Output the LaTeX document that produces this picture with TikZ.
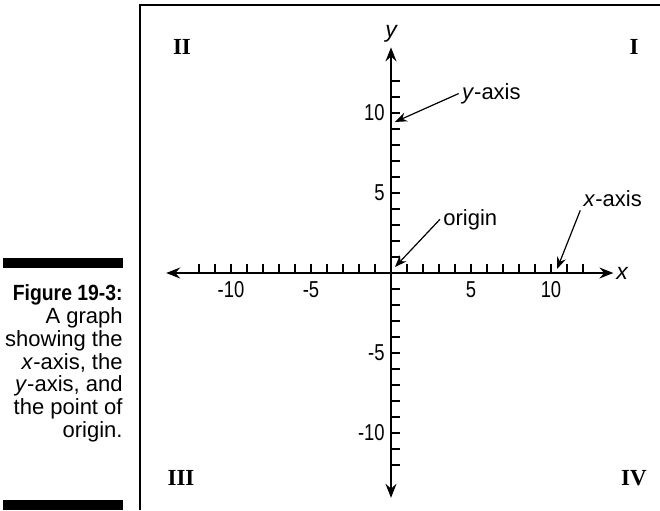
\documentclass[tikz,border=0pt]{standalone}
\usepackage{fontspec}
\setmainfont{Liberation Sans}
\newfontfamily\condfont{Liberation Sans}[FakeStretch=0.8]
\newfontfamily\headfont{Liberation Sans}[FakeStretch=0.88]
\newfontfamily\romfont{Liberation Serif}
\usetikzlibrary{arrows.meta}

\begin{document}
\begin{tikzpicture}[
  x=0.5pt, y=-0.5pt,
  frame/.style={line width=0.8pt},
  axis/.style={line width=0.85pt,
    {Stealth[length=7pt, width=5.5pt, inset=2.4pt]}-{Stealth[length=7pt, width=5.5pt, inset=2.4pt]}},
  tick/.style={line width=0.65pt},
  num/.style={font=\fontsize{11.5}{13}\selectfont\condfont, inner sep=1pt},
  quad/.style={font=\fontsize{11.5}{13}\selectfont\romfont\bfseries, inner sep=0pt},
  callout/.style={font=\fontsize{11}{13}\selectfont, inner sep=1.5pt},
  axislabel/.style={font=\fontsize{11.5}{13}\selectfont\itshape, inner sep=0pt},
  pointer/.style={-{Stealth[length=6pt, width=4.6pt, inset=2pt]}, line width=0.6pt},
  caption/.style={font=\fontsize{11}{11.45}\selectfont, align=right, inner sep=0pt},
  bar/.style={fill=black}
]
\useasboundingbox (0,0) rectangle (660,510);

% frame and caption
\draw[frame] (140,510) -- (140,5) -- (660,5);
\fill[bar] (3,258) rectangle (123,268);
\fill[bar] (3,500) rectangle (123,510);
\node[caption, anchor=north east] (cap) at (123,284)
  {{\headfont\bfseries Figure 19-3:}\\A graph\\showing the\\\textit{x}-axis, the\\\textit{y}-axis, and\\the point of\\origin.};

% quadrants
\node[quad] (q1) at (634,47) {I};
\node[quad] (q2) at (182,47) {II};
\node[quad] (q3) at (181,478) {III};
\node[quad] (q4) at (634,478) {IV};

\begin{scope}[shift={(391,273)}, x=8pt, y=8pt]
\coordinate (xl) at (-14.05,0);
\coordinate (xr) at (13.9,0);
\coordinate (yb) at (0,-14.05);
\coordinate (yt) at (0,14.1);
\draw[axis] (xl) -- (xr);
\draw[axis] (yb) -- (yt);

\foreach \i in {1,...,12} {
  \draw[tick] (\i,0) -- (\i,0.55);
  \draw[tick] (-\i,0) -- (-\i,0.55);
  \draw[tick] (0,\i) -- (0.55,\i);
  \draw[tick] (0,-\i) -- (0.55,-\i);
}
\foreach \i in {-10,-5,5,10} {
  \node[num] (xn\i) at (\i,-1.05) {\i};
  \node[num, anchor=east] (yn\i) at (-0.25,\i) {\i};
}

\node[axislabel] (xlab) at (14.44,0) {x};
\node[axislabel, anchor=base] (ylab) at (0,14.75) {y};

% callouts
\node[callout, anchor=base west] (yaxis) at (4.23,10.86) {\textit{y}-axis};
\coordinate (ytip) at (0.25,9.44);
\draw[pointer] (yaxis.west) -- (ytip);

\node[callout, anchor=base west] (orig) at (3.06,3.0) {origin};
\coordinate (otip) at (0.25,0.375);
\draw[pointer] (orig.west) -- (otip);

\node[callout, anchor=base west] (xaxis) at (11.83,4.14) {\textit{x}-axis};
\coordinate (xtip) at (10.375,0.25);
\draw[pointer] (xaxis.south west) -- (xtip);
\end{scope}
\end{tikzpicture}
\end{document}
